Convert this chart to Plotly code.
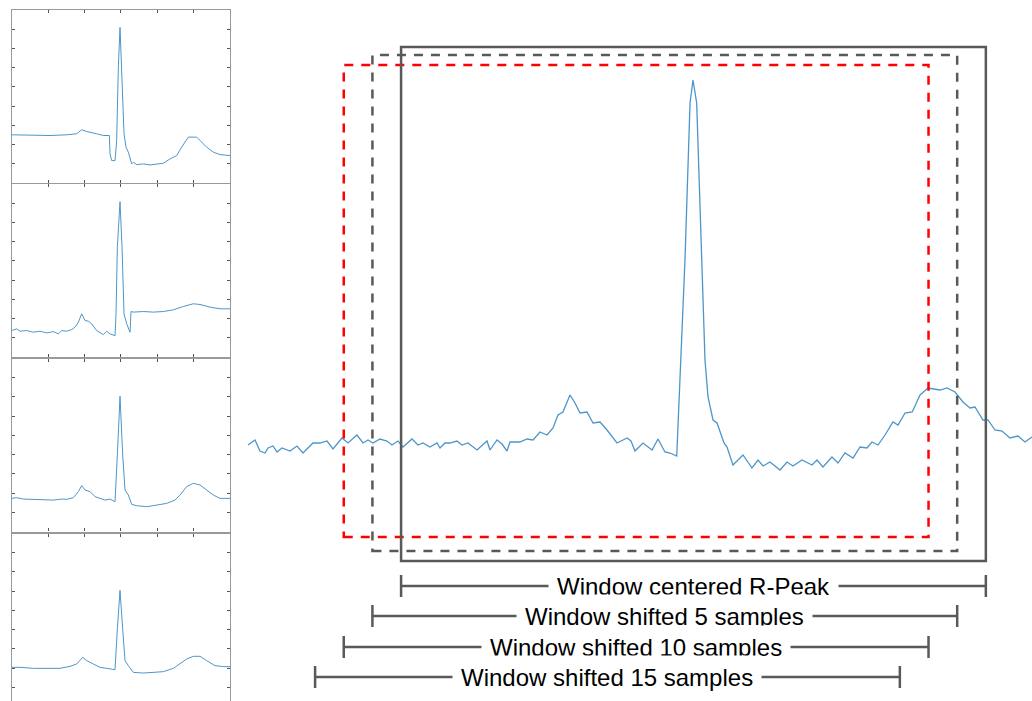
import plotly.graph_objects as go

# ---------------- data ----------------
# main ECG trace (sample index, amplitude in mV)
main_s = [0.3, 1.52, 2.39, 3.26, 3.79, 4.66, 5.36, 6.23, 7.62, 8.84, 9.89, 11.63, 12.86, 14.08, 15.12,
          16.69, 17.74, 19.31, 20.36, 21.23, 22.10, 23.32, 24.54, 25.41, 26.46, 27.33, 28.90, 29.95,
          30.82, 32.04, 33.26, 33.79, 34.66, 35.53, 36.75, 37.62, 38.67, 40.24, 41.99, 42.51, 43.73,
          44.60, 45.47, 46.00, 47.74, 48.96, 50.01, 51.23, 52.45, 53.50, 54.37, 55.24, 56.46, 57.34,
          58.21, 59.43, 60.48, 61.70, 62.92, 64.66, 66.41, 67.10, 67.80, 69.20, 70.77, 71.81, 73.03,
          73.91, 75.08, 76.52, 77.40, 77.92, 78.56, 79.44, 80.01, 80.54, 81.41, 82.11, 83.33, 83.85,
          84.89, 86.64, 88.21, 89.26, 90.13, 91.35, 93.09, 94.32, 95.36, 96.93, 98.68, 99.55, 100.59,
          102.16, 103.21, 104.43, 105.83, 107.05, 108.27, 109.14, 110.19, 111.41, 112.80, 113.68,
          114.90, 116.16, 117.52, 118.91, 121.00, 122.22, 123.62, 125.01, 126.24, 127.11, 128.50,
          129.37, 130.60, 131.82, 133.21, 134.61, 135.83, 137.05]
main_mv = [0.0, 0.025, -0.03, -0.04, -0.015, -0.005, -0.035, -0.015, -0.03, -0.005, -0.04, 0.01, 0.01,
           0.02, -0.02, 0.035, 0.01, 0.05, 0.01, 0.025, 0.01, 0.03, 0.02, 0.0, 0.02, -0.01, 0.03, 0.0,
           0.01, -0.01, 0.01, -0.015, 0.01, 0.01, 0.02, 0.0, 0.01, -0.025, 0.02, -0.025, 0.025, 0.005,
           -0.03, 0.015, 0.015, 0.03, 0.025, 0.065, 0.05, 0.085, 0.15, 0.165, 0.25, 0.21, 0.16, 0.165,
           0.11, 0.115, 0.075, 0.01, 0.035, 0.02, -0.03, 0.01, -0.025, 0.03, -0.035, -0.04, -0.055,
           0.925, 1.71, 1.825, 1.71, 0.925, 0.425, 0.24, 0.125, 0.11, 0.01, -0.01, -0.1, -0.05, -0.115,
           -0.075, -0.105, -0.085, -0.125, -0.085, -0.105, -0.075, -0.1, -0.075, -0.11, -0.06, -0.09,
           -0.04, -0.065, -0.01, -0.015, 0.015, 0.0, 0.05, 0.115, 0.1, 0.16, 0.165, 0.25, 0.285, 0.275,
           0.285, 0.265, 0.215, 0.185, 0.19, 0.125, 0.125, 0.075, 0.07, 0.035, 0.045, 0.015, 0.04]

R_PEAK = 78          # sample index of the R-peak
HALF_WIN = 51        # half window length (samples)
SHIFTS = [0, 5, 10, 15]
LABELS = ["Window centered R-Peak", "Window shifted 5 samples",
          "Window shifted 10 samples", "Window shifted 15 samples"]

# left: four example beats (sample index, mV)
beat1_x = [0, 13, 23, 33, 39, 42, 45, 51, 55, 58.6, 59, 60, 62, 63, 64, 65, 66, 67.4, 68.6, 70, 72, 73,
           75, 79, 83, 87, 91, 95, 99, 102, 106, 111, 114, 117, 121, 125, 131]
beat1_y = [0.09, 0.083, 0.083, 0.09, 0.1, 0.14, 0.123, 0.1, 0.083, 0.083, -0.1, -0.167, -0.167, 0.033,
           0.767, 1.16, 0.767, 0.1, -0.033, -0.083, -0.2, -0.183, -0.207, -0.2, -0.21, -0.2, -0.193,
           -0.15, -0.117, -0.033, 0.067, 0.067, 0.017, -0.033, -0.083, -0.107, -0.117]
beat2_x = [0, 3, 5, 9, 13, 17, 21, 25, 28, 30, 33, 36, 38, 40, 42, 44, 46, 48, 51, 53, 55, 57, 59, 62,
           62.6, 63.4, 65, 66.2, 67.4, 69, 71, 71.6, 73, 79, 85, 91, 97, 103, 109, 113, 119, 125, 131]
beat2_y = [-0.127, -0.11, -0.133, -0.127, -0.143, -0.133, -0.15, -0.137, -0.16, -0.127, -0.133, -0.117,
           -0.093, -0.043, 0.04, -0.027, -0.033, -0.06, -0.127, -0.143, -0.167, -0.133, -0.16, -0.177,
           0.04, 0.707, 1.157, 0.707, 0.04, -0.06, -0.143, 0.063, 0.057, 0.063, 0.057, 0.063, 0.08,
           0.113, 0.14, 0.133, 0.107, 0.09, 0.09]
beat3_x = [0, 3, 7, 13, 19, 25, 30, 33, 37, 40, 42, 44, 47, 50, 53, 56, 59, 62, 63.4, 65, 66.6, 68, 70,
           72, 75, 81, 87, 93, 98, 101, 105, 109, 113, 117, 121, 125, 131]
beat3_y = [-0.06, -0.053, -0.067, -0.07, -0.077, -0.077, -0.067, -0.07, -0.053, 0.007, 0.067, 0.023,
           0.007, -0.043, -0.06, -0.077, -0.067, -0.093, 0.373, 0.957, 0.373, 0.023, -0.027, -0.12,
           -0.133, -0.143, -0.127, -0.11, -0.077, -0.027, 0.057, 0.09, 0.073, 0.023, -0.027, -0.06, -0.06]
beat4_x = [0, 5, 13, 21, 29, 35, 39, 42.6, 45, 49, 53, 57, 62, 63.4, 65, 66.6, 68, 70, 73, 79, 85, 91,
           97, 101, 105, 109, 113, 117, 122, 127, 131]
beat4_y = [0.0, 0.0, -0.01, -0.01, -0.01, 0.01, 0.033, 0.1, 0.067, 0.033, 0.0, -0.01, -0.023, 0.383,
           0.767, 0.383, 0.067, 0.017, -0.05, -0.057, -0.05, -0.043, -0.01, 0.033, 0.083, 0.11, 0.11,
           0.067, 0.017, 0.007, 0.007]
beats_x = [beat1_x, beat2_x, beat3_x, beat4_x]
beats_y = [beat1_y, beat2_y, beat3_y, beat4_y]

# ---------------- layout constants ----------------
W, H = 1032, 701
ECG_COLOR = "#4d96c9"
FRAME = "#999999"
DARK = "#595959"
FONT = "Arial, Liberation Sans, sans-serif"

PANEL_X = [11.7 / W, 230 / W]
PANEL_TOPS = [10, 184, 358.5, 533.5]
PANEL_H = 173
BEAT_XR = [0, 131]
BEAT_YR = [-0.39, 1.333]

fig = go.Figure()
layout = dict(width=W, height=H, margin=dict(l=0, r=0, t=0, b=0),
              paper_bgcolor="white", plot_bgcolor="rgba(0,0,0,0)", showlegend=False)

# main trace (subplot 1, invisible axes)
fig.add_trace(go.Scatter(x=main_s, y=main_mv, mode="lines",
                         line=dict(color=ECG_COLOR, width=1.3),
                         xaxis="x", yaxis="y", hoverinfo="skip"))
layout["xaxis"] = dict(domain=[0, 1], range=[-42.96, 137.05], visible=False, anchor="y",
                       fixedrange=True)
layout["yaxis"] = dict(domain=[0, 1], range=[-1.28, 2.225], visible=False, anchor="x",
                       fixedrange=True)

for i in range(4):
    n = i + 2
    top = PANEL_TOPS[i]
    bot = min(top + PANEL_H, H)
    frac = (bot - top) / PANEL_H
    ytop = BEAT_YR[1]
    ybot = BEAT_YR[1] - frac * (BEAT_YR[1] - BEAT_YR[0])
    fig.add_trace(go.Scatter(x=beats_x[i], y=beats_y[i], mode="lines",
                             line=dict(color=ECG_COLOR, width=1),
                             xaxis=f"x{n}", yaxis=f"y{n}", hoverinfo="skip"))
    xa = dict(domain=PANEL_X, range=BEAT_XR, anchor=f"y{n}", showline=True, linecolor=FRAME,
              linewidth=1.2, ticks="inside", ticklen=3, tickcolor="#555", tickwidth=1,
              tick0=0, dtick=(BEAT_XR[1] - BEAT_XR[0]) / 6, showticklabels=False,
              showgrid=False, zeroline=False, fixedrange=True)
    if i == 3:
        xa.update(side="top", mirror=False)
    else:
        xa.update(mirror="ticks")
    ya = dict(domain=[1 - bot / H, 1 - top / H], range=[ybot, ytop], anchor=f"x{n}",
              showline=True, linecolor=FRAME, linewidth=1.2, mirror="ticks", ticks="inside",
              ticklen=3, tickcolor="#555", tickwidth=1, tick0=BEAT_YR[0],
              dtick=(BEAT_YR[1] - BEAT_YR[0]) / 9, showticklabels=False, showgrid=False,
              zeroline=False, fixedrange=True)
    layout[f"xaxis{n}"] = xa
    layout[f"yaxis{n}"] = ya

shapes = []
annotations = []

# window boxes (drawn back to front: red dashed, gray dashed, solid)
box_style = {
    0: dict(color=DARK, dash="solid", y=(47, 561)),
    5: dict(color=DARK, dash="9px,8px", y=(55, 551)),
    10: dict(color="#ff0000", dash="9px,8px", y=(65, 537)),
}
for sh in [10, 5, 0]:
    st = box_style[sh]
    x0 = R_PEAK - HALF_WIN - sh
    x1 = R_PEAK + HALF_WIN - sh
    shapes.append(dict(type="rect", xref="x", yref="paper", x0=x0, x1=x1,
                       y0=1 - st["y"][1] / H, y1=1 - st["y"][0] / H,
                       line=dict(color=st["color"], width=2.5, dash=st["dash"]),
                       fillcolor="rgba(0,0,0,0)", layer="above"))

# range bars with labels
BAR_Y = [586, 616, 647, 677]
for sh, lab, by in zip(SHIFTS, LABELS, BAR_Y):
    x0 = R_PEAK - HALF_WIN - sh
    x1 = R_PEAK + HALF_WIN - sh
    yp = 1 - by / H
    shapes.append(dict(type="line", xref="x", yref="paper", x0=x0, x1=x1, y0=yp, y1=yp,
                       line=dict(color=DARK, width=2.5)))
    for xe in (x0, x1):
        shapes.append(dict(type="line", xref="x", yref="paper", x0=xe, x1=xe,
                           y0=yp - 11 / H, y1=yp + 11 / H, line=dict(color=DARK, width=2.5)))
    annotations.append(dict(xref="x", yref="paper", x=(x0 + x1) / 2, y=yp, text=lab,
                            showarrow=False, xanchor="center", yanchor="middle",
                            font=dict(family=FONT, size=24, color="black"),
                            bgcolor="white", borderpad=8))

layout["shapes"] = shapes
layout["annotations"] = annotations
fig.update_layout(**layout)
fig.write_html("out.html")
